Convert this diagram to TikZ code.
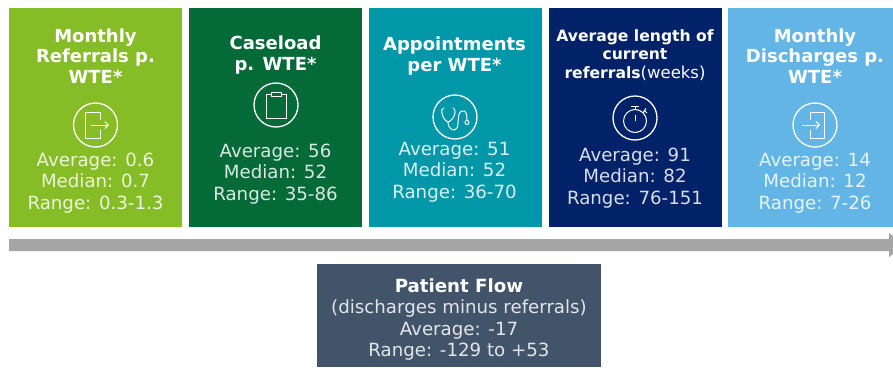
\documentclass[tikz,border=0pt]{standalone}
\usepackage{fontspec}
\setmainfont{DejaVu Sans}
\usetikzlibrary{arrows.meta}
\definecolor{cgreen}{HTML}{86BC25}
\definecolor{cdark}{HTML}{046A38}
\definecolor{cteal}{HTML}{0097A9}
\definecolor{cnavy}{HTML}{012169}
\definecolor{cblue}{HTML}{62B5E5}
\definecolor{cslate}{HTML}{425469}
\definecolor{cgrey}{HTML}{A6A6A6}
\tikzset{
  panel/.style={anchor=north west,inner sep=0pt,outer sep=0pt,minimum height=219pt,minimum width=173pt},
  head/.style={align=center,text=white,inner sep=0pt,font=\fontsize{18}{20.5}\selectfont\bfseries},
  headsmall/.style={align=center,text=white,inner sep=0pt,font=\fontsize{15.6}{18.3}\selectfont\bfseries},
  stats/.style={align=center,text=white,text opacity=0.85,inner sep=0pt,font=\fontsize{18.2}{21.7}\selectfont},
  flowtext/.style={align=center,text=white!85!cslate,inner sep=0pt,font=\fontsize{18.2}{21.2}\selectfont},
  ring/.style={circle,draw=white,line width=1.3pt,minimum size=44pt,inner sep=0pt},
  glyph/.style={draw=white,line width=1pt},
}
\begin{document}
\begin{tikzpicture}[x=1pt,y=-1pt]
\useasboundingbox (0,0) rectangle (893,367);
% panels
\node[panel,fill=cgreen] (p1) at (9,8) {};
\node[panel,fill=cdark] (p2) at (189,8) {};
\node[panel,fill=cteal] (p3) at (369,8) {};
\node[panel,fill=cnavy] (p4) at (548.5,8) {};
\node[panel,fill=cblue,minimum width=165pt] (p5) at (728,8) {};
% arrow
\fill[cgrey] (9,239) -- (889,239) -- (889,233) -- (893,236) -- (893,254) -- (889,257) -- (889,251) -- (9,251) -- cycle;
% titles
\node[head] (t1) at (95.5,56) {Monthly\\Referrals p.\\WTE*};
\node[head] (t2) at (275.5,55) {Caseload\\p. WTE*};
\node[head] (t3) at (454.5,56) {Appointments\\per WTE*};
\node[headsmall] (t4) at (635,55) {Average length of\\current\\referrals{\mdseries\fontsize{16.5}{18.3}\selectfont(weeks)}};
\node[head] (t5) at (815,56) {Monthly\\Discharges p.\\WTE*};
% stats
\node[stats] (s1) at (95.5,183) {Average: 0.6\\Median: 0.7\\Range: 0.3-1.3};
\node[stats] (s2) at (275.5,174) {Average: 56\\Median: 52\\Range: 35-86};
\node[stats] (s3) at (454.5,172) {Average: 51\\Median: 52\\Range: 36-70};
\node[stats] (s4) at (635,178) {Average: 91\\Median: 82\\Range: 76-151};
\node[stats] (s5) at (815,183) {Average: 14\\Median: 12\\Range: 7-26};
% icons
\node[ring] (i1) at (95.5,125) {};
\draw[glyph] (100.5,120) -- (100.5,112) -- (85.5,112) -- (85.5,138) -- (100.5,138) -- (100.5,130);
\draw[glyph,-{Straight Barb[length=3.5pt,width=7pt]}] (91,125) -- (109,125);
\node[ring] (i2) at (276,105) {};
\draw[glyph] (271,94) -- (266,94) -- (266,118) -- (286,118) -- (286,94) -- (281,94);
\draw[glyph] (271,92) rectangle (281,96);
\node[ring] (i3) at (455,117) {};
\draw[glyph,line cap=round] (444,108) .. controls (441,108) and (442,111) .. (442,113) .. controls (443,119) and (446,121) .. (448,122) .. controls (451,121) and (454,118) .. (455,113) .. controls (455,110) and (455,109) .. (453,108);
\draw[glyph,line cap=round] (448,122) .. controls (448,130) and (455,132) .. (457,128) .. controls (459,124) and (457,112) .. (462,111) .. controls (466,110) and (467,114) .. (467,120);
\draw[glyph] (467,122.5) circle (2pt);
\node[ring] (i4) at (635,118) {};
\draw[glyph] (635,121) circle (11.5pt);
\draw[glyph] (635,121) -- (635,115);
\draw[glyph] (631,106.5) -- (639,106.5);
\draw[glyph] (635,106.5) -- (635,109.5);
\draw[glyph] (644,110) -- (647,113);
\draw[glyph] (643,113) -- (646,108.5);
\node[ring] (i5) at (815,125) {};
\draw[glyph] (810,120) -- (810,112) -- (824,112) -- (824,138) -- (810,138) -- (810,130);
\draw[glyph,-{Straight Barb[length=3.5pt,width=7pt]}] (802,125) -- (820,125);
% patient flow
\node[anchor=north west,inner sep=0pt,outer sep=0pt,minimum width=284pt,minimum height=103pt,fill=cslate] (pf) at (317,264) {};
\node[flowtext] (pft) at (459,319.5) {{\bfseries\color{white} Patient Flow}\\(discharges minus referrals)\\Average: -17\\Range: -129 to +53};
\end{tikzpicture}
\end{document}
